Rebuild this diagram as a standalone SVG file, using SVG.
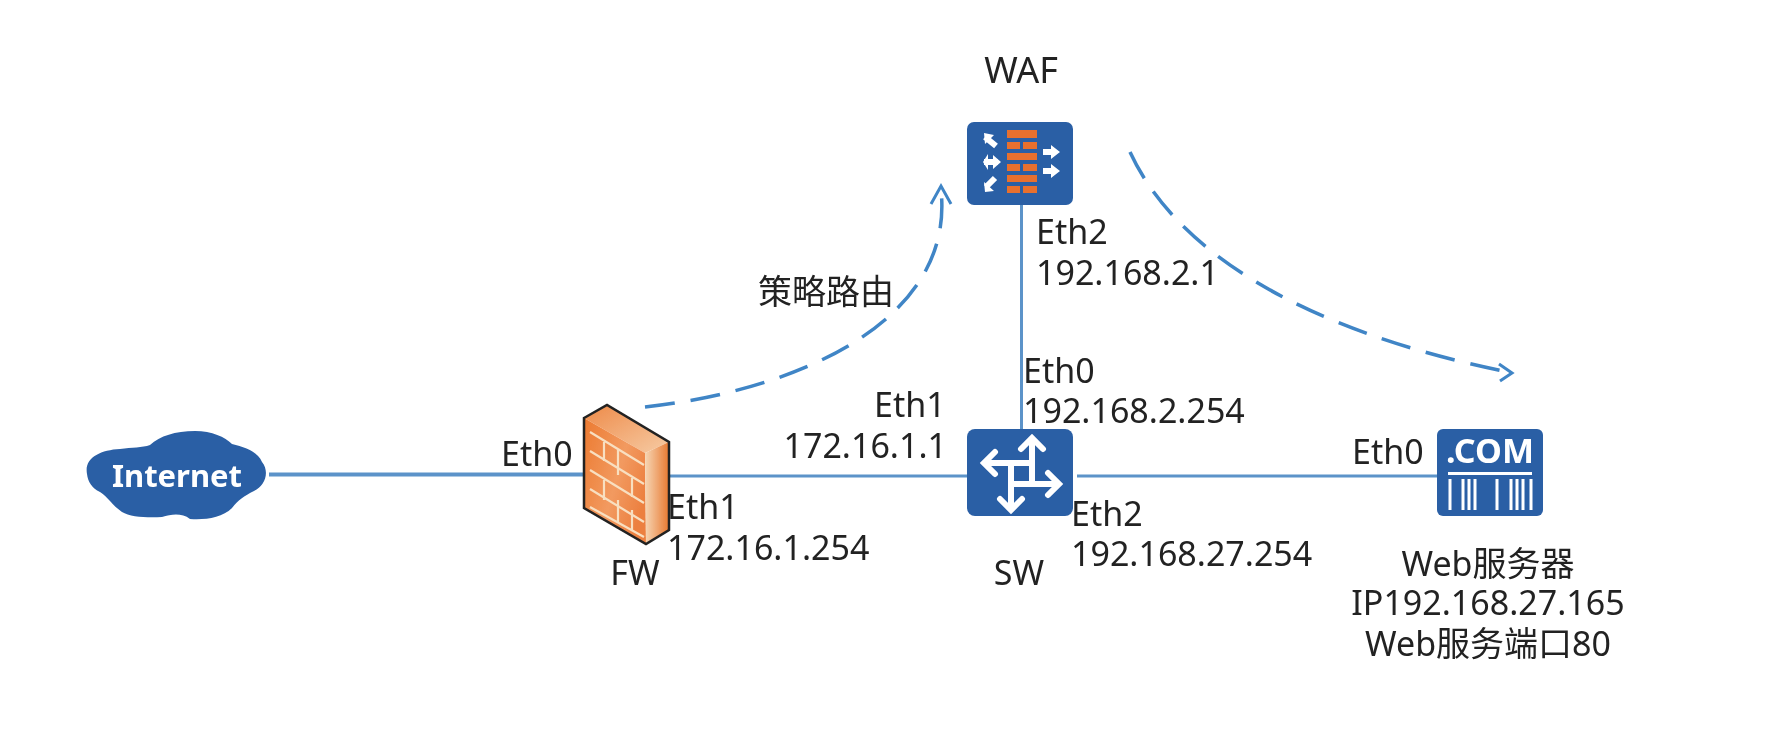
<svg xmlns="http://www.w3.org/2000/svg" width="1788" height="734" viewBox="0 0 1788 734">
<defs>
<style>
text{font-family:"Noto Sans","Noto Sans CJK SC",sans-serif;font-size:34px;fill:#222}
.m{text-anchor:middle}
.e{text-anchor:end}
.link{stroke:#5b93c9;stroke-width:3;fill:none}
.flow{stroke:#3f85c6;stroke-width:3.500;fill:none;stroke-dasharray:30 16}
.head{stroke:#3f85c6;stroke-width:3;fill:none}
.body{fill:#2a5fa5}
.brick{fill:#e8702e}
.wh{fill:#fff}
.wl{stroke:#fff;fill:none;stroke-width:6}
.mortar{stroke:#f8dfc0;stroke-width:2.200;fill:none}
</style>
<linearGradient id="front" x1="0" y1="0" x2="1" y2="0.6"><stop offset="0" stop-color="#ec7a30"/><stop offset="0.6" stop-color="#f29a60"/><stop offset="1" stop-color="#ec8040"/></linearGradient>
<linearGradient id="top" x1="0" y1="0" x2="1" y2="1"><stop offset="0" stop-color="#ee8a48"/><stop offset="1" stop-color="#f6cba4"/></linearGradient>
<linearGradient id="side" x1="0" y1="0" x2="1" y2="0"><stop offset="0" stop-color="#f6d6b4"/><stop offset="1" stop-color="#e87830"/></linearGradient>
<filter id="soft" x="-5%" y="-5%" width="110%" height="110%"><feGaussianBlur stdDeviation="0.6"/></filter>
</defs>
<rect width="1788" height="734" fill="#fff"/>
<g filter="url(#soft)">
<g id="connectors">
<path class="link" d="M269 474.500H585" style="stroke-width:4"/>
<path class="link" d="M669 476H967"/>
<path class="link" d="M1077 476H1437"/>
<path class="link" d="M1021.500 205V429"/>
<path class="flow" d="M645 407C800 390 955 320 941 190"/>
<path class="head" d="M931 204L941 186L951 204"/>
<path class="flow" d="M1130 152C1175 250 1300 330 1508 372"/>
<path class="head" d="M1499 364L1512 373L1500 381"/>
</g>
<g id="internet">
<path class="body" d="M87 474C84 458 100 450 120 449C132 447 142 448 150 445C160 436 175 431 195 431C212 431 225 437 232 444C245 447 258 452 262 462C270 472 265 486 254 491C244 496 238 500 232 508C222 518 205 520 190 519C182 513 172 514 162 517C148 518 130 517 122 512C112 505 108 497 100 492C92 488 88 482 87 474Z"/>
<text class="m" x="177" y="487" style="font-size:31px;font-weight:700;fill:#fff">Internet</text>
</g>
<g id="fw">
<polygon points="584,418 607,405 669,442 645,453" fill="url(#top)"/>
<polygon points="584,418 645,453 646,544 584,508" fill="url(#front)"/>
<polygon points="645,453 669,442 669,530 646,544" fill="url(#side)"/>
<path class="mortar" d="M590 432L644 465M590 451L644 484M590 470L644 503M590 489L644 522M590 507L644 537M604 442V461M618 450V475M632 478V497M604 480V500M618 500V522M632 510V530"/>
<polygon points="584,418 607,405 669,442 669,530 646,544 584,508" fill="none" stroke="#222" stroke-width="2.500"/>
</g>
<g id="waf">
<rect class="body" x="967" y="122" width="106" height="83" rx="7"/>
<g class="brick">
<rect x="1007" y="130" width="30" height="8"/><rect x="1007" y="142" width="13" height="7"/><rect x="1023" y="142" width="14" height="7"/>
<rect x="1007" y="153" width="30" height="7"/><rect x="1007" y="164" width="13" height="7"/><rect x="1023" y="164" width="14" height="7"/>
<rect x="1007" y="175" width="30" height="7"/><rect x="1007" y="186" width="13" height="7"/><rect x="1023" y="186" width="14" height="7"/>
</g>
<path class="wl" d="M1043 152H1056M1043 171H1056M984 162H998M996 146L985 137M995 178L986 187"/>
<path class="wh" d="M1051 145L1060 152L1051 159ZM1051 164L1060 171L1051 178ZM988 154L983 162L988 170ZM993 155L1001 162L993 169ZM984 133L994 135L985 144ZM984 182L985 192L994 191Z"/>
</g>
<g id="sw">
<rect class="body" x="967" y="429" width="106" height="87" rx="8"/>
<path class="wl" d="M1032 440V481M1014 484H1056M988 463H1030M1011 466V507"/>
<path class="wl" stroke-linecap="round" d="M1021 449L1032 438L1043 449M1048 473L1059 484L1048 495M995 452L984 463L995 474M1000 499L1011 510L1022 499"/>
<circle class="body" cx="1020" cy="473" r="6"/>
</g>
<g id="web">
<rect class="body" x="1437" y="429" width="106" height="87" rx="6"/>
<text class="m" x="1490" y="463" style="font-size:34px;font-weight:700;fill:#fff">.COM</text>
<rect class="wh" x="1448" y="472" width="84" height="3"/>
<path stroke="#fff" stroke-width="3" fill="none" d="M1450 479V510M1463 479V510M1469 479V510M1475 479V510M1497 479V510M1511 479V510M1517 479V510M1523 479V510M1531 479V510"/>
</g>
<g id="labels">
<text class="m" x="1021" y="83" style="font-size:36px">WAF</text>
<text x="1036" y="244">Eth2</text>
<text x="1036" y="285">192.168.2.1</text>
<text x="1023" y="383">Eth0</text>
<text x="1023" y="423">192.168.2.254</text>
<text x="874" y="417">Eth1</text>
<text class="e" x="947" y="458">172.16.1.1</text>
<text x="501" y="466">Eth0</text>
<text x="667" y="519">Eth1</text>
<text x="667" y="560">172.16.1.254</text>
<text class="m" x="635" y="585">FW</text>
<text class="m" x="1019" y="585">SW</text>
<text x="1071" y="526">Eth2</text>
<text x="1071" y="566">192.168.27.254</text>
<text x="1352" y="464">Eth0</text>
<text class="m" x="1488" y="576">Web服务器</text>
<text class="m" x="1488" y="615">IP192.168.27.165</text>
<text class="m" x="1488" y="656">Web服务端口80</text>
<text x="758" y="304">策略路由</text>
</g>
</g>
</svg>
